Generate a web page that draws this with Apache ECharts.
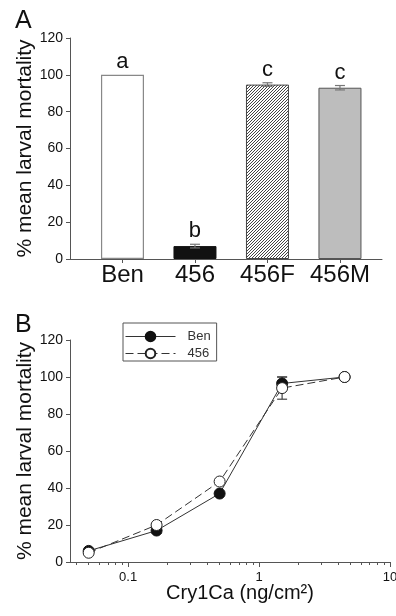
<!DOCTYPE html>
<html>
<head>
<meta charset="utf-8">
<script src="https://cdn.jsdelivr.net/npm/echarts@6/dist/echarts.min.js"></script>
<style>
  html, body { margin: 0; padding: 0; background: #fff; }
  #chart { width: 396px; height: 616px; }
</style>
</head>
<body>
<div id="chart"></div>
<script>
// panel A: mortality per strain
const strains = ['Ben', '456', '456F', '456M'];
const mortality = [100, 7, 94.7, 93];
const mortalityErr = [0, 1, 1, 1.2];
const groupLetters = ['a', 'b', 'c', 'c'];

// panel B: dose response
const doses = [0.05, 0.165, 0.5, 1.5, 4.5];
const benMortality = [6, 17, 37, 96.5, 100];
const benErr = [0, 1.5, 0, 3.5, 0];
const mortality456 = [5, 20, 43.5, 94, 100];
const err456 = [0, 0, 0, 6, 0];

const majorTicksB = [0.1, 1, 10];
const minorTicksB = [0.04, 0.05, 0.06, 0.07, 0.08, 0.09,
  0.2, 0.3, 0.4, 0.5, 0.6, 0.7, 0.8, 0.9,
  2, 3, 4, 5, 6, 7, 8, 9];

const FONT = 'Liberation Sans, Arial, sans-serif';
const AXIS_COLOR = '#555';
const TEXT_COLOR = '#111';

// diagonal hatch for the 456F bar
function makeHatch() {
  const c = document.createElement('canvas');
  c.width = 3; c.height = 3;
  const ctx = c.getContext('2d');
  ctx.fillStyle = '#fff';
  ctx.fillRect(0, 0, 3, 3);
  ctx.strokeStyle = '#444';
  ctx.lineWidth = 1;
  ctx.beginPath();
  ctx.moveTo(0, 3); ctx.lineTo(3, 0);
  ctx.moveTo(-1, 1); ctx.lineTo(1, -1);
  ctx.moveTo(2, 4); ctx.lineTo(4, 2);
  ctx.stroke();
  return c;
}

const barStyles = [
  { color: '#fff', borderColor: '#888', borderWidth: 1.2 },
  { color: '#111', borderColor: '#111', borderWidth: 1 },
  { color: { image: makeHatch(), repeat: 'repeat' }, borderColor: '#444', borderWidth: 1 },
  { color: '#bdbdbd', borderColor: '#555', borderWidth: 1 }
];

function errorBars(color, capW, letters) {
  return function (params, api) {
    const x = api.value(0), y = api.value(1), e = api.value(2);
    const top = api.coord([x, y + e]);
    const bot = api.coord([x, y - e]);
    const children = [];
    if (e > 0) {
      const ls = { stroke: color, lineWidth: 1.2 };
      children.push({ type: 'line', shape: { x1: top[0], y1: top[1], x2: bot[0], y2: bot[1] }, style: ls });
      children.push({ type: 'line', shape: { x1: top[0] - capW / 2, y1: top[1], x2: top[0] + capW / 2, y2: top[1] }, style: ls });
      children.push({ type: 'line', shape: { x1: bot[0] - capW / 2, y1: bot[1], x2: bot[0] + capW / 2, y2: bot[1] }, style: ls });
    }
    if (letters) {
      children.push({
        type: 'text',
        style: {
          text: letters[params.dataIndex], x: top[0], y: top[1] - 2,
          align: 'center', verticalAlign: 'bottom',
          font: '22px ' + FONT, fill: TEXT_COLOR
        }
      });
    }
    return { type: 'group', children: children };
  };
}

function yAxisCfg(grid) {
  return {
    gridIndex: grid, type: 'value', min: 0, max: 120, interval: 20,
    name: '% mean larval mortality', nameLocation: 'middle', nameGap: 34, nameMoveOverlap: false,
    nameTextStyle: { fontSize: 21, color: TEXT_COLOR, fontFamily: FONT },
    axisLine: { show: true, onZero: false, lineStyle: { color: AXIS_COLOR } },
    axisTick: { show: true, length: 4, lineStyle: { color: AXIS_COLOR } },
    axisLabel: { fontSize: 14, color: TEXT_COLOR, fontFamily: FONT, margin: 7 },
    splitLine: { show: false }
  };
}

const chart = echarts.init(document.getElementById('chart'), null, { renderer: 'canvas' });

chart.setOption({
  animation: false,
  backgroundColor: '#fff',
  textStyle: { fontFamily: FONT },
  title: [
    { text: 'A', left: 10, top: 4, textStyle: { fontSize: 25, fontWeight: 'normal', color: TEXT_COLOR, fontFamily: FONT } },
    { text: 'B', left: 10, top: 308, textStyle: { fontSize: 25, fontWeight: 'normal', color: TEXT_COLOR, fontFamily: FONT } }
  ],
  legend: {
    data: [
      { name: 'Ben', lineStyle: { width: 1 } },
      { name: '456', lineStyle: { width: 1 } }
    ],
    orient: 'vertical', left: 123, top: 323,
    padding: [7, 6, 1, 2], itemGap: 4,
    itemWidth: 50, itemHeight: 12,
    borderColor: '#555', borderWidth: 1,
    textStyle: { fontSize: 13, color: '#333', fontFamily: FONT, padding: [0, 0, 0, 7] }
  },
  grid: [
    { left: 70, top: 38, width: 312, height: 221, outerBoundsMode: 'none' },
    { left: 70, top: 340, width: 320, height: 222, outerBoundsMode: 'none' }
  ],
  xAxis: [
    {
      gridIndex: 0, type: 'value', min: -0.724, max: 3.58,
      axisLine: { show: true, onZero: false, lineStyle: { color: AXIS_COLOR } },
      axisTick: { show: true, length: 4, customValues: [0, 1, 2, 3], lineStyle: { color: AXIS_COLOR } },
      axisLabel: {
        customValues: [0, 1, 2, 3], fontSize: 24, color: TEXT_COLOR, fontFamily: FONT, margin: 4,
        formatter: v => strains[Math.round(v)]
      },
      splitLine: { show: false }
    },
    {
      gridIndex: 1, type: 'log', min: 0.036, max: 10, position: 'bottom',
      name: 'Cry1Ca (ng/cm²)', nameLocation: 'middle', nameGap: 21, nameMoveOverlap: false,
      nameTextStyle: { fontSize: 20, color: TEXT_COLOR, fontFamily: FONT, padding: [0, 0, 0, 20] },
      axisLine: { show: true, onZero: false, lineStyle: { color: AXIS_COLOR } },
      axisTick: { show: true, length: 5, customValues: majorTicksB, lineStyle: { color: AXIS_COLOR } },
      axisLabel: { customValues: majorTicksB, fontSize: 13, color: TEXT_COLOR, fontFamily: FONT, margin: 9, formatter: v => String(v) },
      splitLine: { show: false }
    },
    {
      gridIndex: 1, type: 'log', min: 0.036, max: 10, position: 'bottom', offset: 0,
      axisLine: { show: false, onZero: false },
      axisTick: { show: true, length: 3, customValues: minorTicksB, lineStyle: { color: AXIS_COLOR } },
      axisLabel: { show: false },
      splitLine: { show: false }
    }
  ],
  yAxis: [yAxisCfg(0), yAxisCfg(1)],
  series: [
    {
      type: 'bar', xAxisIndex: 0, yAxisIndex: 0, barWidth: 43,
      data: mortality.map((v, i) => ({ value: [i, v], itemStyle: barStyles[i] }))
    },
    {
      type: 'custom', xAxisIndex: 0, yAxisIndex: 0, z: 5,
      renderItem: errorBars('#777', 10, groupLetters),
      data: mortality.map((v, i) => [i, v, mortalityErr[i]])
    },
    {
      type: 'custom', xAxisIndex: 1, yAxisIndex: 1, z: 1,
      renderItem: errorBars('#444', 10),
      data: doses.map((d, i) => [d, benMortality[i], benErr[i]])
    },
    {
      type: 'custom', xAxisIndex: 1, yAxisIndex: 1, z: 1,
      renderItem: errorBars('#444', 10),
      data: doses.map((d, i) => [d, mortality456[i], err456[i]])
    },
    {
      name: 'Ben', type: 'line', xAxisIndex: 1, yAxisIndex: 1, z: 3,
      symbol: 'circle', symbolSize: 11,
      lineStyle: { color: '#333', width: 1 },
      itemStyle: { color: '#111', borderColor: '#111', borderWidth: 1 },
      data: doses.map((d, i) => [d, benMortality[i]])
    },
    {
      name: '456', type: 'line', xAxisIndex: 1, yAxisIndex: 1, z: 4,
      symbol: 'circle', symbolSize: 11,
      lineStyle: { color: '#333', width: 1, type: [8, 4] },
      itemStyle: { color: '#fff', borderColor: '#222', borderWidth: 1 },
      data: doses.map((d, i) => [d, mortality456[i]])
    }
  ]
});
</script>
</body>
</html>
